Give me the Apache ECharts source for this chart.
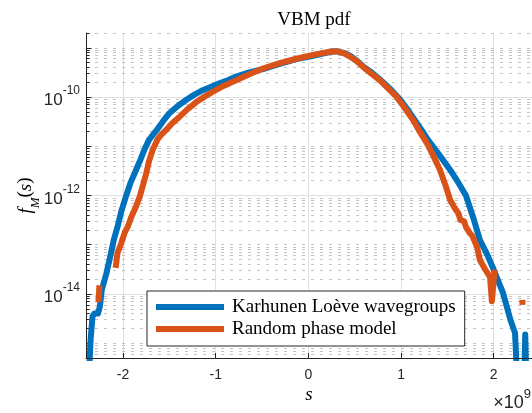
<!DOCTYPE html>
<html>
<head>
<meta charset="utf-8">
<script src="https://cdn.jsdelivr.net/npm/echarts@6/dist/echarts.min.js"></script>
<style>html,body{margin:0;padding:0;background:#fff;}#c{width:532px;height:413px;}</style>
</head>
<body>
<div id="c"></div>
<script>
// s in units of 1e9, f in absolute values
const sKL = [-2.37,-2.36,-2.35,-2.33,-2.31,-2.27,-2.25,-2.23,-2.18,-2.13,-2.10,-2.06,-2.02,-1.97,-1.92,-1.86,-1.81,-1.77,-1.72,-1.64,-1.57,-1.50,-1.41,-1.32,-1.23,-1.14,-1.05,-0.96,-0.87,-0.78,-0.63,-0.49,-0.31,-0.13,0.00,0.10,0.19,0.27,0.32,0.38,0.45,0.52,0.59,0.68,0.77,0.88,0.99,1.06,1.13,1.21,1.29,1.41,1.53,1.62,1.70,1.78,1.85,1.93,2.00,2.10,2.18,2.23,2.25,null,2.33,2.34,2.35];
const fKL = [2.5e-16,4.7e-16,1.2e-15,3.5e-15,4.0e-15,4.0e-15,5.6e-15,1.2e-14,2.6e-14,6.8e-14,1.26e-13,2.3e-13,4.7e-13,9.5e-13,1.8e-12,3.3e-12,5.5e-12,8.5e-12,1.35e-11,2.1e-11,3.2e-11,4.7e-11,6.6e-11,8.7e-11,1.12e-10,1.38e-10,1.62e-10,1.9e-10,2.2e-10,2.6e-10,3.2e-10,3.7e-10,4.7e-10,5.9e-10,6.6e-10,7.2e-10,7.9e-10,8.5e-10,8.4e-10,7.9e-10,6.9e-10,5.5e-10,4.2e-10,3.2e-10,2.3e-10,1.48e-10,8.9e-11,5.9e-11,3.8e-11,2.3e-11,1.35e-11,6.8e-12,3.3e-12,1.8e-12,1.0e-12,3.5e-13,1.26e-13,6.3e-14,3.1e-14,1.05e-14,3.0e-15,1.6e-15,2.5e-16,null,2.5e-16,1.5e-15,2.5e-16];

const sRP = [-2.265,-2.255,null,-2.08,-2.06,-2.02,-1.98,-1.95,-1.91,-1.86,-1.82,-1.75,-1.72,-1.68,-1.63,-1.60,-1.54,-1.47,-1.39,-1.30,-1.21,-1.12,-1.03,-0.91,-0.78,-0.63,-0.49,-0.31,-0.13,0.05,0.23,0.31,0.38,0.45,0.52,0.59,0.68,0.77,0.86,0.95,1.04,1.13,1.20,1.28,1.35,1.42,1.48,1.53,1.58,1.62,1.64,1.68,1.70,1.74,1.77,1.80,1.82,1.85,1.87,1.91,1.93,1.96,1.98,2.01,null,2.309,2.311];
const fRP = [6.8e-15,1.5e-14,null,3.4e-14,6.8e-14,1.07e-13,1.8e-13,2.3e-13,3.7e-13,6.0e-13,9.5e-13,2.8e-12,5.0e-12,8.5e-12,1.35e-11,1.62e-11,2.1e-11,2.95e-11,4.0e-11,5.75e-11,7.9e-11,1.02e-10,1.29e-10,1.7e-10,2.2e-10,2.95e-10,3.8e-10,4.9e-10,6.0e-10,7.2e-10,8.3e-10,8.5e-10,7.8e-10,6.6e-10,5.4e-10,4.1e-10,3.0e-10,2.2e-10,1.5e-10,1.02e-10,6.0e-11,3.4e-11,2.0e-11,1.15e-11,6.3e-12,3.3e-12,1.6e-12,8.1e-13,5.5e-13,4.3e-13,3.2e-13,3.0e-13,2.3e-13,1.74e-13,1.5e-13,1.1e-13,9.1e-14,4.9e-14,5.2e-14,3.1e-14,3.3e-14,2.2e-14,7.1e-15,3.1e-14,null,7.6e-15,6.0e-15];

const xTicks = [-2,-1,0,1,2];
const yLabelExps = [-10,-12,-14];
const xMin = -2.4, xMax = 2.413, yMin = 5e-16, yMax = 2e-9;

function pairs(xs, ys){ return xs.map((x,i)=> (x===null||ys[i]===null) ? [null,null] : [x, ys[i]]); }

// grid lines
const gridLines = [];
xTicks.forEach(v => gridLines.push([{coord:[v, yMin], lineStyle:{color:'#e0e0e0', width:1, type:'solid'}}, {coord:[v, yMax]}]));
const tickSegs = [];
for (let e = -16; e <= -9; e++) {
  for (let k = 1; k <= 9; k++) {
    const v = k * Math.pow(10, e);
    if (v < yMin*0.999 || v > yMax*1.001) continue;
    const major = (k === 1 && yLabelExps.indexOf(e) >= 0);
    gridLines.push([{coord:[xMin, v], lineStyle: major ? {color:'#e0e0e0', width:1, type:'solid'} : {color:'#c4c4c4', width:1, type:[3,6]}}, {coord:[xMax, v]}]);
    const len = (k === 1) ? 0.06 : 0.04;
    tickSegs.push([{coord:[xMin, v], lineStyle:{color:'#262626', width:1, type:'solid'}}, {coord:[xMin+len, v]}]);
  }
}

const chart = echarts.init(document.getElementById('c'), null, {renderer:'canvas'});
const serif = 'Liberation Serif';
const sans = 'Liberation Sans';
chart.setOption({
  animation: false,
  backgroundColor: '#fff',
  title: {
    text: 'VBM pdf', left: 309, top: 6, textAlign: 'center',
    textStyle: {fontFamily: serif, fontSize: 19, fontWeight: 'normal', color: '#000'}
  },
  grid: {left: 86, top: 33, right: 0, bottom: 55, containLabel: false},
  legend: {
    orient: 'vertical', left: 147, top: 291,
    data: ['Karhunen Loève wavegroups', 'Random phase model'],
    icon: 'rect', itemWidth: 68, itemHeight: 6, itemGap: 2,
    padding: [6, 9, 7, 9],
    borderColor: '#262626', borderWidth: 1, borderRadius: 0, backgroundColor: '#fff',
    textStyle: {fontFamily: serif, fontSize: 19, color: '#000', lineHeight: 20, padding: [0,0,0,3]},
    z: 10
  },
  xAxis: {
    type: 'value', min: xMin, max: xMax, z: 5,
    axisLine: {show: true, onZero: false, lineStyle: {color: '#262626', width: 1}},
    axisTick: {show: true, inside: true, length: 5, lineStyle: {color: '#262626'}, customValues: xTicks},
    axisLabel: {show: true, customValues: xTicks, margin: 10, fontFamily: sans, fontSize: 14, color: '#262626',
      formatter: v => (Math.abs(v - Math.round(v)) < 1e-9 ? String(Math.round(v)) : '')},
    splitLine: {show: false},
    name: 's', nameLocation: 'middle', nameGap: 27, nameMoveOverlap: false,
    nameTextStyle: {fontFamily: serif, fontStyle: 'italic', fontSize: 19, color: '#000'}
  },
  yAxis: {
    type: 'log', logBase: 10, min: yMin, max: yMax, z: 5,
    axisLine: {show: true, onZero: false, lineStyle: {color: '#262626', width: 1}},
    axisTick: {show: false},
    splitLine: {show: false},
    axisLabel: {
      show: true, margin: 6, showMinLabel: false, showMaxLabel: false,
      formatter: v => {
        const e = Math.round(Math.log10(v));
        if (Math.abs(Math.log10(v) - e) > 1e-6) return '';
        if (yLabelExps.indexOf(e) < 0) return '';
        return '{b|10}{sup|' + e + '}';
      },
      rich: {
        b: {fontFamily: sans, fontSize: 17, color: '#262626', lineHeight: 24, verticalAlign: 'bottom'},
        sup: {fontFamily: sans, fontSize: 12, color: '#262626', lineHeight: 24, verticalAlign: 'top'}
      }
    },
    name: '{i|f}{sub|M}{n|(}{i|s}{n|)}', nameLocation: 'middle', nameGap: 44, nameRotate: 90, nameMoveOverlap: false,
    nameTextStyle: {
      rich: {
        i: {fontFamily: serif, fontStyle: 'italic', fontSize: 19, color: '#000', lineHeight: 26, verticalAlign: 'top'},
        sub: {fontFamily: serif, fontStyle: 'italic', fontSize: 13, color: '#000', lineHeight: 26, verticalAlign: 'bottom'},
        n: {fontFamily: serif, fontSize: 19, color: '#000', lineHeight: 26, verticalAlign: 'top'}
      }
    }
  },
  graphic: [{
    type: 'text', right: 1, bottom: 1, z: 20,
    style: {
      text: '{x|×}{b|10}{sup|9}',
      rich: {
        x: {fontFamily: sans, fontSize: 18, fill: '#262626', lineHeight: 24, verticalAlign: 'bottom'},
        b: {fontFamily: sans, fontSize: 18, fill: '#262626', lineHeight: 24, verticalAlign: 'bottom'},
        sup: {fontFamily: sans, fontSize: 13, fill: '#262626', lineHeight: 24, verticalAlign: 'top'}
      }
    }
  }],
  series: [
    {
      name: 'gridlines', type: 'line', data: [], z: 1, silent: true,
      markLine: {silent: true, z: 1, symbol: ['none','none'], label: {show: false}, animation: false,
        data: gridLines.concat(tickSegs)}
    },
    {
      name: 'Karhunen Loève wavegroups', type: 'line', data: pairs(sKL, fKL),
      showSymbol: false, symbol: 'none', connectNulls: false, z: 3, clip: true,
      color: '#0072BD', itemStyle: {color: '#0072BD'},
      lineStyle: {color: '#0072BD', width: 6, cap: 'butt', join: 'round'}
    },
    {
      name: 'Random phase model', type: 'line', data: pairs(sRP, fRP),
      showSymbol: false, symbol: 'none', connectNulls: false, z: 4, clip: true,
      color: '#D95319', itemStyle: {color: '#D95319'},
      lineStyle: {color: '#D95319', width: 6, cap: 'butt', join: 'round'}
    }
  ]
});
</script>
</body>
</html>
